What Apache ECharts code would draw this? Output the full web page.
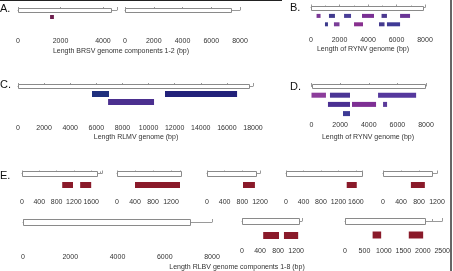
<!DOCTYPE html>
<html>
<head>
<meta charset="utf-8">
<script src="https://cdn.jsdelivr.net/npm/echarts@6/dist/echarts.min.js"></script>
<style>
html, body { margin: 0; padding: 0; background: #fff; }
#chart { width: 453px; height: 271px; }
</style>
</head>
<body>
<div id="chart"></div>
<script>
// panel order used by every array below
const panelIds = ['A1', 'A2', 'B', 'C', 'D', 'E1', 'E2', 'E3', 'E4', 'E5', 'E6', 'E7', 'E8'];
// full genome / component length (bp)
const genomeLen = [4380, 7400, 7860, 17700, 7870, 1740, 1420, 1110, 1740, 1090, 7070, 1270, 2060];
// axis extent and label step (bp)
const axisMax = [4660, 8000, 8000, 18000, 8000, 1850, 1400, 1200, 1740, 1200, 8000, 1330, 2500];
const axisStep = [2000, 2000, 2000, 2000, 2000, 400, 400, 400, 400, 400, 2000, 400, 500];

// matched regions: [start, end, row]
const segA1 = [[1510, 1690, 1]];
const segA2 = [];
const segB = [[390, 670, 1], [1260, 1680, 1], [2320, 2810, 1], [3580, 4420, 1], [4950, 5330, 1], [6250, 6950, 1],
  [980, 1190, 2], [1610, 2000, 2], [3020, 3650, 2], [4770, 5160, 2], [5330, 6250, 2]];
const segC = [[5670, 6970, 1], [11260, 16780, 1], [6900, 10420, 2]];
const segD = [[0, 1010, 1], [1290, 2690, 1], [4650, 7310, 1],
  [1150, 2690, 2], [2830, 4510, 2], [5000, 5280, 2], [2200, 2690, 3]];
const segE1 = [[930, 1180, 1], [1345, 1600, 1]];
const segE2 = [[400, 1400, 1]];
const segE3 = [[815, 1085, 1]];
const segE4 = [[1390, 1620, 1]];
const segE5 = [[620, 930, 1]];
const segE6 = [];
const segE7 = [[470, 820, 1], [930, 1245, 1]];
const segE8 = [[710, 930, 1], [1640, 2010, 1]];
const segments = [segA1, segA2, segB, segC, segD, segE1, segE2, segE3, segE4, segE5, segE6, segE7, segE8];

// segment colours
const colA1 = ['#6e1f4e'];
const colB = ['#7b3796', '#413a8e', '#4a3e98', '#7a3094', '#4c3990', '#6a3596',
  '#3b3a8c', '#7a3d98', '#88308f', '#443a8e', '#3f3a96'];
const colC = ['#1f2f7e', '#22217a', '#4b2f8f'];
const colD = ['#8c3d9b', '#4a3595', '#55389d', '#4a2f92', '#7e2f94', '#5a3a9a', '#3d3a95'];
const maroon = '#8a1a2a';
const colors = [colA1, [], colB, colC, colD,
  [maroon, maroon], [maroon], [maroon], [maroon], [maroon], [], [maroon, maroon], [maroon, maroon]];

// layout: x of 0, axis width, genome-bar centre y, axis y, row spacing, genome bar h, segment h
const layout = [
  [18, 99, 10, 34, 7, 4, 4],
  [125, 115, 10, 34, 7, 4, 4],
  [311, 114, 7.5, 33, 8.4, 4, 4],
  [18, 235, 86, 121, 8, 4, 6],
  [311.5, 114.5, 86, 118, 9.2, 4, 5],
  [22, 80, 173.5, 195, 11.5, 5, 6],
  [117, 63, 173.5, 195, 11.5, 5, 6],
  [207, 53, 173.5, 195, 11.5, 5, 6],
  [286, 76, 173.5, 195, 11.5, 5, 6],
  [383, 54, 173.5, 195, 11.5, 5, 6],
  [23, 189, 222, 250, 13.5, 6, 7],
  [242, 60, 221, 244, 14.5, 6, 7],
  [345, 102, 221, 244, 14, 6, 7]
];

const font = 'Liberation Sans, Arial, sans-serif';
const grids = [], xAxes = [], yAxes = [], series = [];

panelIds.forEach(function (id, i) {
  const lay = layout[i];
  grids.push({ left: lay[0], top: lay[2], width: lay[1], height: lay[3] - lay[2] });
  xAxes.push({
    gridIndex: i, type: 'value', min: 0, max: axisMax[i], interval: axisStep[i],
    axisLine: { show: true, lineStyle: { color: '#9a9a9a', width: 1 } },
    axisTick: { show: true, inside: true, length: 3, lineStyle: { color: '#9a9a9a' } },
    minorTick: { show: true, splitNumber: 2, length: 2, lineStyle: { color: '#9a9a9a' } },
    splitLine: { show: false },
    axisLabel: {
      fontSize: 7, color: '#333', margin: 4, fontFamily: font,
      showMaxLabel: axisMax[i] % axisStep[i] === 0,
      formatter: function (v) { return String(v); }
    }
  });
  yAxes.push({
    gridIndex: i, type: 'value', show: false, inverse: true,
    min: 0, max: (lay[3] - lay[2]) / lay[4]
  });
  const cols = colors[i];
  series.push({
    type: 'custom', name: id, xAxisIndex: i, yAxisIndex: i, clip: false, silent: true,
    data: [[0, genomeLen[i], 0]].concat(segments[i]),
    renderItem: function (params, api) {
      const row = api.value(2);
      const p0 = api.coord([api.value(0), row]);
      const p1 = api.coord([api.value(1), row]);
      const h = row === 0 ? lay[5] : lay[6];
      if (row === 0) {
        return {
          type: 'rect',
          shape: { x: Math.round(p0[0]) + 0.5, y: Math.round(p0[1] - h / 2) + 0.5, width: Math.round(p1[0] - p0[0]), height: h },
          style: { fill: '#fff', stroke: '#8a8a8a', lineWidth: 1 }
        };
      }
      return {
        type: 'rect',
        shape: { x: p0[0], y: p0[1] - h / 2, width: p1[0] - p0[0], height: h },
        style: { fill: cols[params.dataIndex - 1] }
      };
    }
  });
});

function label(text, x, y, size, color) {
  return {
    type: 'text', x: x, y: y,
    style: { text: text, fontSize: size, fill: color, fontFamily: font, textAlign: 'center', textVerticalAlign: 'middle' }
  };
}
function letter(text, x, y) {
  return {
    type: 'text', x: x, y: y,
    style: { text: text, fontSize: 11, fill: '#111', fontFamily: font, textVerticalAlign: 'middle' }
  };
}

const myChart = echarts.init(document.getElementById('chart'), null, { renderer: 'canvas' });
myChart.setOption({
  animation: false,
  backgroundColor: '#fff',
  grid: grids,
  xAxis: xAxes,
  yAxis: yAxes,
  series: series,
  graphic: [
    { type: 'line', shape: { x1: 0, y1: 0.5, x2: 282, y2: 0.5 }, style: { stroke: '#222', lineWidth: 1 } },
    { type: 'line', shape: { x1: 451, y1: 0, x2: 451, y2: 271 }, style: { stroke: '#666', lineWidth: 2 } },
    letter('A.', 0, 9),
    letter('B.', 290, 8),
    letter('C.', 0, 85),
    letter('D.', 290, 87),
    letter('E.', 0, 176),
    label('Length BRSV genome components 1-2 (bp)', 121, 51, 7, '#333'),
    label('Length of RYNV genome (bp)', 363, 49, 7, '#333'),
    label('Length RLMV genome (bp)', 136, 137, 7, '#333'),
    label('Length of RYNV genome (bp)', 368, 137, 7, '#333'),
    label('Length RLBV genome components 1-8 (bp)', 237, 267, 7, '#333')
  ]
});
</script>
</body>
</html>
